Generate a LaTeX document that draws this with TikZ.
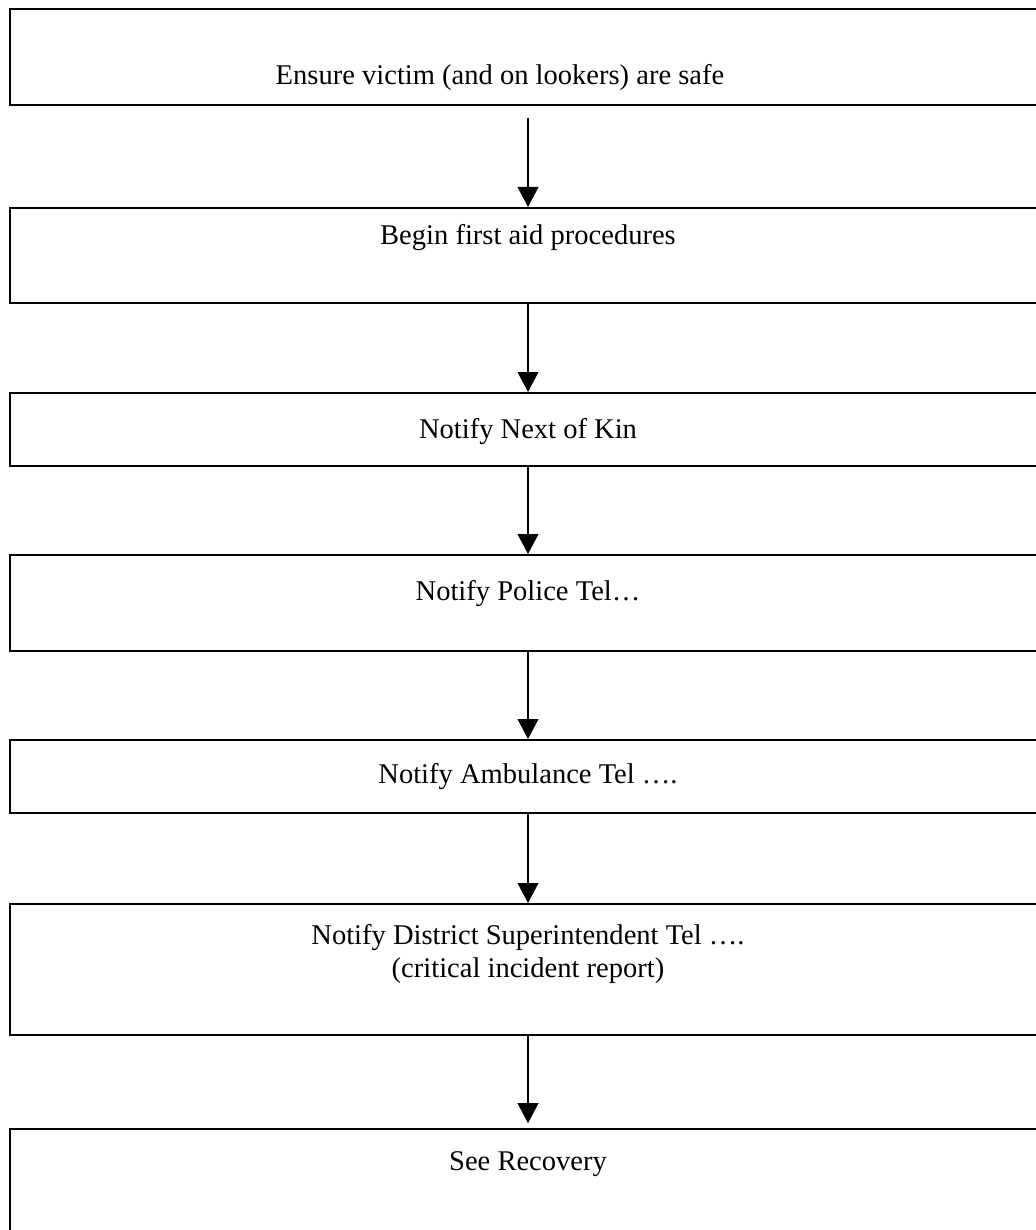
\documentclass[tikz,border=0pt]{standalone}
\usepackage{fontspec}
\setmainfont{Liberation Serif}
\usetikzlibrary{arrows.meta}

\begin{document}
\begin{tikzpicture}[
        stepbox/.style={draw,line width=1.1pt,minimum width=25.9cm,minimum height=#1,inner sep=0pt,anchor=north},
        steptext/.style={anchor=base,align=center,inner sep=0pt,font=\fontsize{20.3}{23.5}\selectfont},
        flow/.style={line width=0.8pt,-{Triangle[length=0.5cm,width=0.52cm]}}
    ]
        \clip (0,0) rectangle (25.9,-30.75);

        % Step boxes
        \node[stepbox=2.4cm,label={[steptext,xshift=-0.7cm,yshift=-1.925cm]north:Ensure victim (and on lookers) are safe}] (safe) at (13.2,-0.2) {};
        \node[stepbox=2.375cm,label={[steptext,yshift=-0.95cm]north:Begin first aid procedures}] (firstaid) at (13.2,-5.175) {};
        \node[stepbox=1.825cm,label={[steptext,yshift=-1.15cm]north:Notify Next of Kin}] (kin) at (13.2,-9.8) {};
        \node[stepbox=2.4cm,label={[steptext,yshift=-1.15cm]north:Notify Police Tel…}] (police) at (13.2,-13.85) {};
        \node[stepbox=1.825cm,label={[steptext,yshift=-1.1cm]north:Notify Ambulance Tel ….}] (ambulance) at (13.2,-18.475) {};
        \node[stepbox=3.275cm,label={[steptext,yshift=-1.855cm]north:Notify District Superintendent Tel ….\\(critical incident report)}] (district) at (13.2,-22.575) {};
        \node[stepbox=3.2cm,label={[steptext,yshift=-1.05cm]north:See Recovery}] (recovery) at (13.2,-28.2) {};

        % Arrows
        \draw[flow,shorten <=0.3cm] (safe) -- (firstaid);
        \draw[flow] (firstaid) -- (kin);
        \draw[flow] (kin) -- (police);
        \draw[flow] (police) -- (ambulance);
        \draw[flow] (ambulance) -- (district);
        \draw[flow,shorten >=0.12cm] (district) -- (recovery);
    \end{tikzpicture}
\end{document}
